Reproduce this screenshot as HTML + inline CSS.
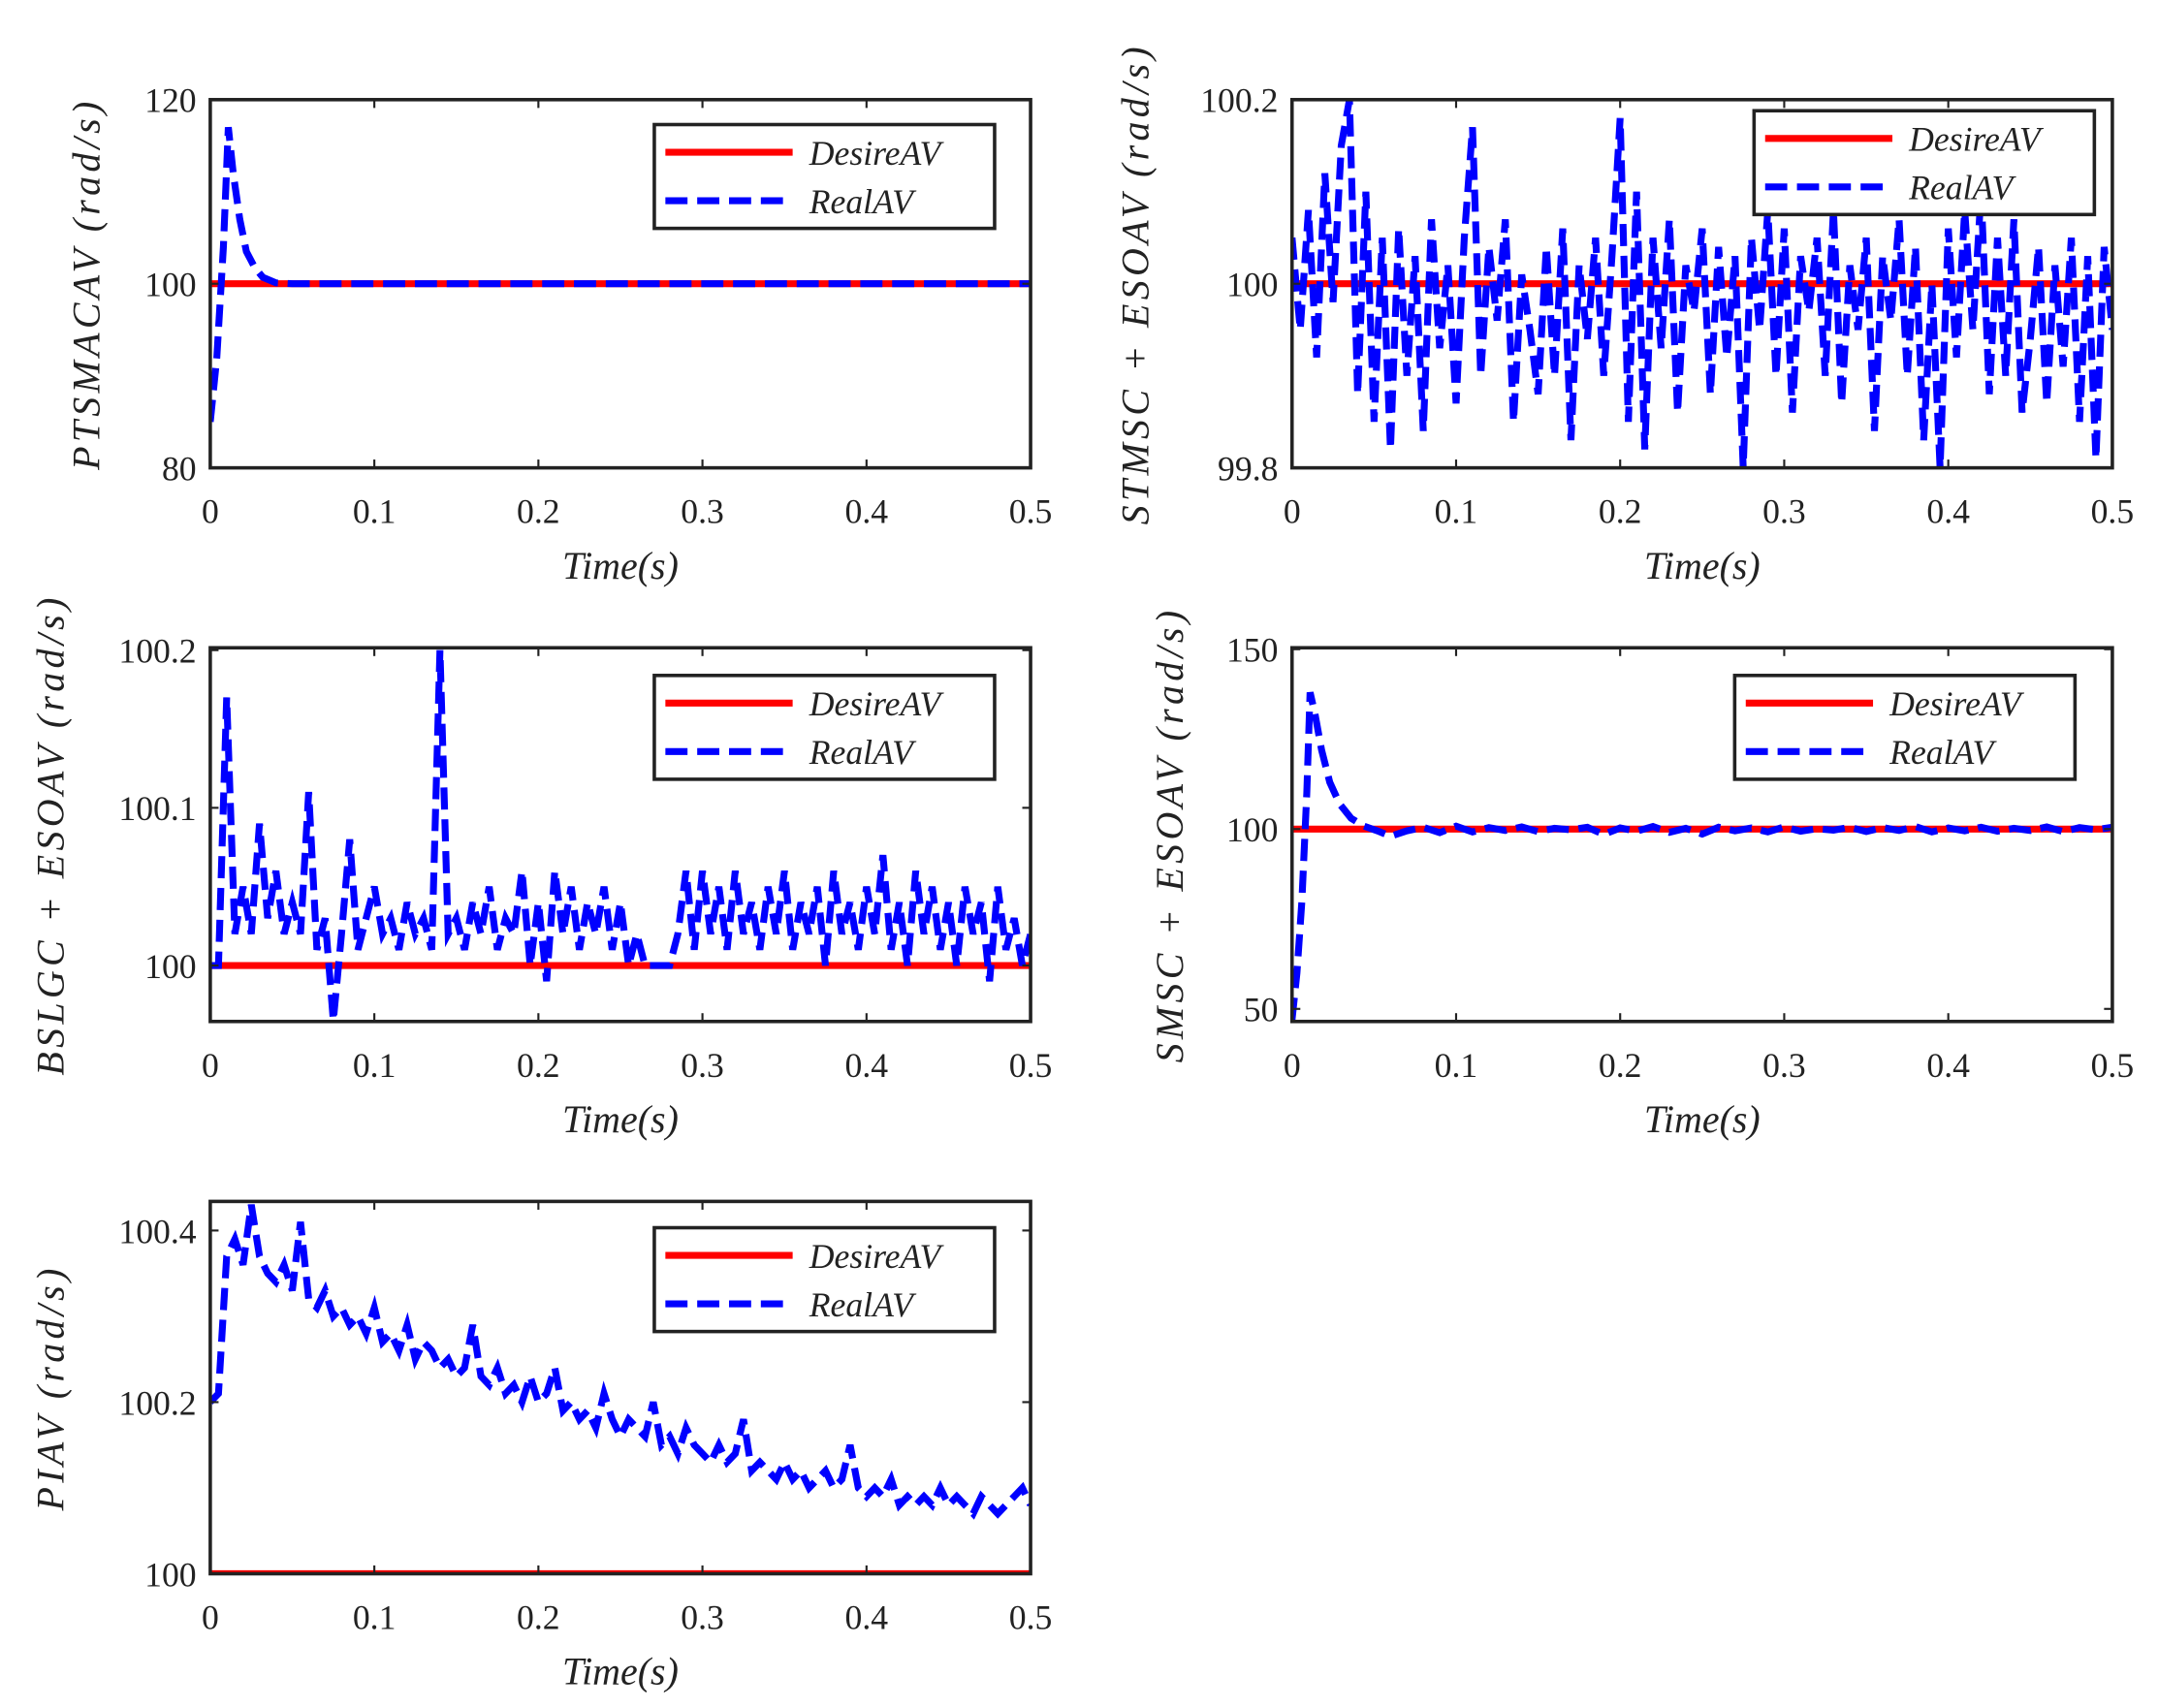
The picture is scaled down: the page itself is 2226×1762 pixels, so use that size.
<!DOCTYPE html>
<html><head><meta charset="utf-8"><style>
html,body{margin:0;padding:0;background:#fff;}
svg{display:block;}
text{font-family:"Liberation Serif",serif;fill:#222;}
</style></head><body>
<svg id="fig" width="2226" height="1762" viewBox="0 0 1560 1234" preserveAspectRatio="none" xmlns="http://www.w3.org/2000/svg"></svg>
<script>
// ---------- data ----------
const xTicks = [0, 0.1, 0.2, 0.3, 0.4, 0.5];
const xTickLabels = ["0", "0.1", "0.2", "0.3", "0.4", "0.5"];

const tlTime = [0, 0.004, 0.008, 0.011, 0.014, 0.018, 0.022, 0.027, 0.032, 0.04, 0.05, 0.5];
const tlReal = [85, 92, 104, 117, 112, 107, 103.5, 101.8, 100.7, 100.1, 100, 100];
const tlYTicks = [80, 100, 120];
const tlYTickLabels = ["80", "100", "120"];

const trReal = [100.05,99.95,100.08,99.92,100.12,99.98,100.15,100.2,99.88,100.1,
99.85,100.05,99.82,100.06,99.9,100.03,99.84,100.07,99.93,100.02,
99.87,100.05,100.17,99.9,100.04,99.96,100.07,99.85,100.01,99.95,
99.88,100.04,99.9,100.06,99.83,100.02,99.94,100.05,99.9,100.03,
100.18,99.85,100.1,99.82,100.05,99.93,100.07,99.86,100.02,99.97,
100.06,99.88,100.04,99.92,100.03,99.8,100.05,99.95,100.08,99.9,
100.06,99.86,100.03,99.97,100.05,99.9,100.08,99.87,100.02,99.95,
100.05,99.84,100.03,99.96,100.07,99.9,100.04,99.83,100.0,99.8,
100.06,99.92,100.08,99.95,100.1,99.88,100.05,99.9,100.07,99.86,
99.94,100.04,99.87,100.02,99.91,100.05,99.85,100.03,99.81,100.04,99.95];
const trYTicks = [99.8, 100, 100.2];
const trYTickLabels = ["99.8", "100", "100.2"];

const mlReal = [100.0,100.0,100.17,100.02,100.05,100.02,100.09,100.03,100.06,100.02,
100.04,100.02,100.11,100.01,100.03,99.965,100.02,100.08,100.01,100.03,
100.05,100.02,100.03,100.01,100.04,100.02,100.03,100.01,100.2,100.02,
100.03,100.01,100.04,100.02,100.05,100.01,100.03,100.02,100.06,100.0,
100.04,99.99,100.06,100.02,100.05,100.01,100.04,100.02,100.05,100.01,
100.04,100.0,100.02,100.0,100.0,100.0,100.0,100.02,100.06,100.01,
100.06,100.02,100.05,100.01,100.06,100.02,100.04,100.01,100.05,100.02,
100.06,100.01,100.04,100.02,100.05,100.0,100.06,100.02,100.04,100.01,
100.05,100.02,100.07,100.01,100.04,100.0,100.06,100.02,100.05,100.01,
100.04,100.0,100.05,100.02,100.04,99.99,100.05,100.01,100.03,100.0,100.02];
const mlYTicks = [100, 100.1, 100.2];
const mlYTickLabels = ["100", "100.1", "100.2"];

const mrTransTime = [0, 0.003, 0.006, 0.009, 0.011, 0.014, 0.018, 0.023, 0.029, 0.036, 0.044, 0.052];
const mrTransReal = [47, 60, 80, 110, 138, 132, 122, 113, 107, 103, 100.8, 99.5];
const mrNoise = [98,99.5,100.5,99,100.8,99.2,100.4,99.6,100.6,99.3,100.2,99.8,100.5,98.5,100.3,99.4,
100.7,99.1,100.2,98.6,100.5,99.5,100.3,99.2,100.6,99.4,100.1,99.7,100.5,99.3,100.4,99.6,
100.7,99.2,100.3,99.5,100.5,99.4,100.2,99.6,100.6,99.3,100.4,99.8,100.5];
const mrYTicks = [50, 100, 150];
const mrYTickLabels = ["50", "100", "150"];

const blReal = [100.2,100.21,100.37,100.39,100.36,100.43,100.37,100.35,100.34,100.36,
100.33,100.41,100.32,100.31,100.33,100.3,100.31,100.29,100.3,100.28,
100.31,100.27,100.28,100.26,100.29,100.25,100.27,100.26,100.24,100.25,
100.23,100.24,100.29,100.23,100.22,100.24,100.21,100.22,100.2,100.23,
100.2,100.21,100.24,100.19,100.2,100.18,100.19,100.17,100.21,100.18,
100.16,100.18,100.17,100.16,100.2,100.15,100.16,100.14,100.17,100.15,
100.14,100.13,100.15,100.13,100.14,100.18,100.12,100.13,100.12,100.11,
100.13,100.11,100.12,100.1,100.11,100.12,100.1,100.11,100.15,100.1,
100.09,100.1,100.09,100.11,100.08,100.09,100.08,100.09,100.08,100.1,
100.08,100.09,100.08,100.07,100.09,100.08,100.07,100.08,100.09,100.1,100.08];
const blYTicks = [100, 100.2, 100.4];
const blYTickLabels = ["100", "100.2", "100.4"];

const desired = 100;

// ---------- drawing ----------
const NS = "http://www.w3.org/2000/svg";
const svg = document.getElementById("fig");
function mk(tag, attrs, parent) {
  const e = document.createElementNS(NS, tag);
  for (const k in attrs) e.setAttribute(k, attrs[k]);
  (parent || svg).appendChild(e);
  return e;
}
function evenTimes(n) { const a = []; for (let i = 0; i < n; i++) a.push(0.5 * i / (n - 1)); return a; }

let clipId = 0;
function panel(cfg) {
  const g = mk("g", {});
  
  
  const {x0, x1, y0, y1, ymin, ymax} = cfg;
  const sx = v => x0 + (v - 0) / 0.5 * (x1 - x0);
  const sy = v => y1 - (v - ymin) / (ymax - ymin) * (y1 - y0);
  const cid = "clip" + (clipId++);
  const cp = mk("clipPath", {id: cid}, g);
  mk("rect", {x: x0, y: y0, width: x1 - x0, height: y1 - y0}, cp);
  const pg = mk("g", {"clip-path": "url(#" + cid + ")"}, g);
  const red = mk("line", {x1: x0, x2: x1, y1: sy(desired), y2: sy(desired), stroke: "#ff0000", "stroke-width": 5}, pg);
  
  
  let d = "";
  cfg.t.forEach((t, i) => { d += (i ? "L" : "M") + sx(t).toFixed(2) + "," + sy(cfg.v[i]).toFixed(2); });
  const blue = mk("path", {d: d, fill: "none", stroke: "#0000ff", "stroke-width": 5, "stroke-dasharray": "16 7", "stroke-linejoin": "miter"}, pg);
  
  
  const fr = mk("rect", {x: x0, y: y0, width: x1 - x0, height: y1 - y0, fill: "none", stroke: "#222", "stroke-width": 2.5}, g);
  
  
  xTicks.forEach((t, i) => {
    const X = sx(t);
    mk("line", {x1: X, x2: X, y1: y1, y2: y1 - 6, stroke: "#222", "stroke-width": 1.5}, g);
    mk("line", {x1: X, x2: X, y1: y0, y2: y0 + 6, stroke: "#222", "stroke-width": 1.5}, g);
    const tx = mk("text", {x: X, y: y1 + 40, "text-anchor": "middle", "font-size": 25}, g);
    tx.textContent = xTickLabels[i];
    
    
  });
  cfg.yt.forEach((v, i) => {
    const Y = sy(v);
    mk("line", {x1: x0, x2: x0 + 6, y1: Y, y2: Y, stroke: "#222", "stroke-width": 1.5}, g);
    mk("line", {x1: x1, x2: x1 - 6, y1: Y, y2: Y, stroke: "#222", "stroke-width": 1.5}, g);
    const ty = mk("text", {x: x0 - 10, y: Y + 9, "text-anchor": "end", "font-size": 25}, g);
    ty.textContent = cfg.ytl[i];
    
    
  });
  const xl = mk("text", {x: (x0 + x1) / 2, y: y1 + 80, "text-anchor": "middle", "font-size": 28, "font-style": "italic"}, g);
  xl.textContent = "Time(s)";
  
  
  const cy = (y0 + y1) / 2;
  const yl = mk("text", {x: cfg.ylx, y: cy, "text-anchor": "middle", "font-size": 28, "font-style": "italic", "letter-spacing": 3, transform: "rotate(-90 " + cfg.ylx + " " + cy + ")"}, g);
  yl.textContent = cfg.ylabel;
  
  
  const L = cfg.leg;
  const lg = mk("g", {}, g);
  
  
  mk("rect", {x: L[0], y: L[1], width: 246, height: 75, fill: "#fff", stroke: "#222", "stroke-width": 2.5}, lg);
  mk("line", {x1: L[0] + 8, x2: L[0] + 100, y1: L[1] + 20, y2: L[1] + 20, stroke: "#ff0000", "stroke-width": 5}, lg);
  mk("line", {x1: L[0] + 8, x2: L[0] + 100, y1: L[1] + 55, y2: L[1] + 55, stroke: "#0000ff", "stroke-width": 5, "stroke-dasharray": "16 7"}, lg);
  const t1 = mk("text", {x: L[0] + 112, y: L[1] + 29, "font-size": 25, "font-style": "italic"}, lg);
  t1.textContent = "DesireAV";
  
  
  const t2 = mk("text", {x: L[0] + 112, y: L[1] + 64, "font-size": 25, "font-style": "italic"}, lg);
  t2.textContent = "RealAV";
  
  
}

panel({name: "ptsmac-panel", x0: 152, x1: 745, y0: 72, y1: 338, ymin: 80, ymax: 120,
  t: tlTime, v: tlReal, yt: tlYTicks, ytl: tlYTickLabels, ylx: 72, ylabel: "PTSMACAV (rad/s)", leg: [473, 90]});
panel({name: "stmsc-panel", x0: 934, x1: 1527, y0: 72, y1: 338, ymin: 99.8, ymax: 100.2,
  t: evenTimes(trReal.length), v: trReal, yt: trYTicks, ytl: trYTickLabels, ylx: 830, ylabel: "STMSC + ESOAV (rad/s)", leg: [1268, 80]});
panel({name: "bslgc-panel", x0: 152, x1: 745, y0: 468, y1: 738, ymin: 99.9645, ymax: 100.2015,
  t: evenTimes(mlReal.length), v: mlReal, yt: mlYTicks, ytl: mlYTickLabels, ylx: 46, ylabel: "BSLGC + ESOAV (rad/s)", leg: [473, 488]});
const mrT = mrTransTime.concat(evenTimes(mrNoise.length).map(t => 0.06 + t * 0.44 / 0.5));
panel({name: "smsc-panel", x0: 934, x1: 1527, y0: 468, y1: 738, ymin: 46.5, ymax: 150.4,
  t: mrT, v: mrTransReal.concat(mrNoise), yt: mrYTicks, ytl: mrYTickLabels, ylx: 855, ylabel: "SMSC + ESOAV (rad/s)", leg: [1254, 488]});
panel({name: "pi-panel", x0: 152, x1: 745, y0: 868, y1: 1137, ymin: 100, ymax: 100.4339,
  t: evenTimes(blReal.length), v: blReal, yt: blYTicks, ytl: blYTickLabels, ylx: 46, ylabel: "PIAV (rad/s)", leg: [473, 887]});
</script>
</body></html>
